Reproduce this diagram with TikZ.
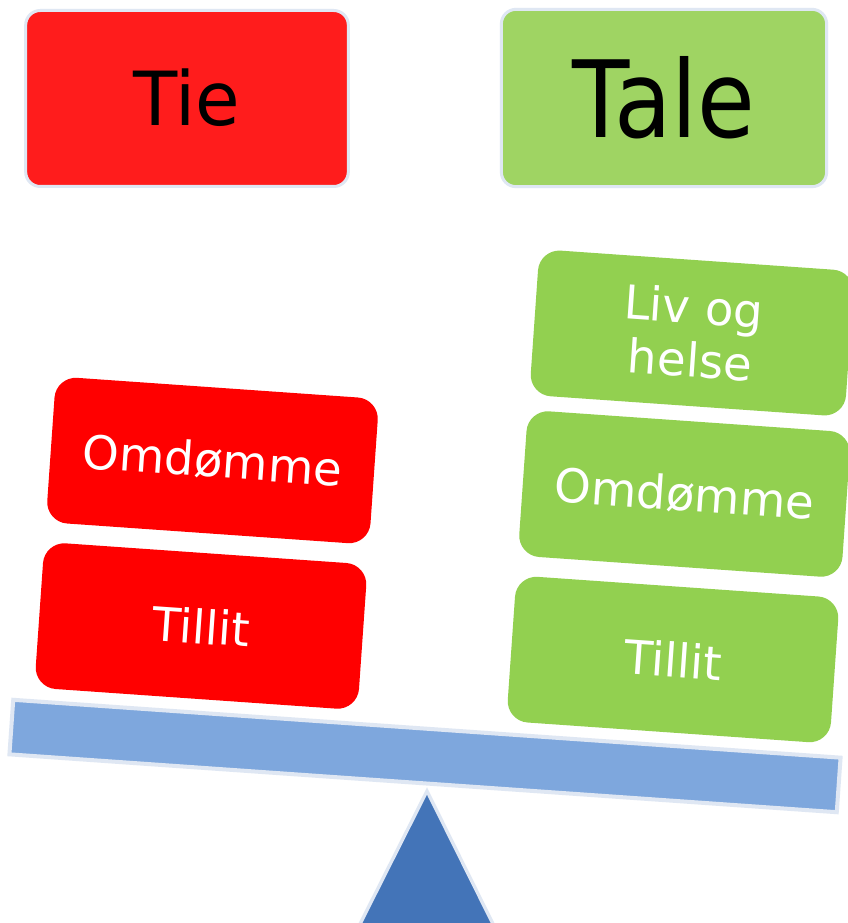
\documentclass[tikz,border=0pt]{standalone}
\usepackage{fontspec}
\setmainfont{DejaVu Sans}
\definecolor{tieRed}{HTML}{FF1C1C}
\definecolor{taleGreen}{HTML}{9FD463}
\definecolor{wRed}{HTML}{FF0000}
\definecolor{wGreen}{HTML}{92D050}
\definecolor{beamBlue}{HTML}{7EA7DD}
\definecolor{fulcrumBlue}{HTML}{4374B8}
\definecolor{paleEdge}{HTML}{DFE7F3}
\begin{document}
\begin{tikzpicture}[x=0.75pt,y=-0.75pt,
  topbox/.style={rectangle, rounded corners=11pt, draw=paleEdge, line width=2.25pt, inner sep=0pt, text=black},
  weight/.style={rectangle, rounded corners=16pt, rotate=-4, minimum width=243pt, minimum height=109.5pt, inner sep=0pt, text=white, font=\fontsize{35}{40}\selectfont, align=center},
  ]
\useasboundingbox (0,0) rectangle (847,923);
\fill[white] (0,0) rectangle (847,923);
% top labels
\node[topbox, fill=tieRed, minimum width=242pt, minimum height=132pt, font=\fontsize{56}{60}\selectfont] (tie) at (187,98.5) {\raisebox{2pt}{\scalebox{0.97}[1]{Tie}}};
\node[topbox, fill=taleGreen, minimum width=244pt, minimum height=133pt, font=\fontsize{80}{84}\selectfont] (tale) at (664,98) {\raisebox{2pt}{\scalebox{0.88}[1]{Tale}}};
% beam and fulcrum
\coordinate (apex) at (427,791);
\coordinate (baseR) at (494,926);
\coordinate (baseL) at (359,926);
\filldraw[fill=fulcrumBlue, draw=paleEdge, line width=2.5pt, line join=miter] (apex) -- (baseR) -- (baseL) -- cycle;
\node[rectangle, rotate=-4, fill=beamBlue, draw=paleEdge, line width=3pt, minimum width=622pt, minimum height=41pt, inner sep=0pt] (beam) at (425,756) {};
% weights
\node[weight, fill=wRed] (rOm) at (212.5,460.5) {Omdømme};
\node[weight, fill=wRed] (rTil) at (201,626) {Tillit};
\node[weight, fill=wGreen, minimum width=237pt] (gLiv) at (692,333) {Liv og\\helse};
\node[weight, fill=wGreen] (gOm) at (684.5,494) {Omdømme};
\node[weight, fill=wGreen] (gTil) at (673,659.5) {Tillit};
\end{tikzpicture}
\end{document}
